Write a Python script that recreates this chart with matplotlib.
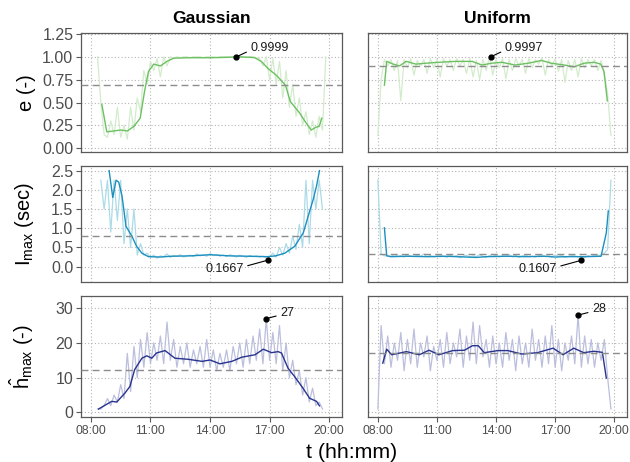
import matplotlib.pyplot as plt
import numpy as np

plt.rcParams['font.family'] = ['Liberation Sans', 'DejaVu Sans']
plt.rcParams['mathtext.fontset'] = 'custom'
plt.rcParams['mathtext.rm'] = 'Liberation Sans'
plt.rcParams['mathtext.it'] = 'Liberation Sans'


def hm(s):
    h, m = s.split(':')
    return int(h) + int(m) / 60.0


# raw series: 10-minute samples, first sample time given
g_e_raw_t0 = "08:20"
g_e_raw = [1.00, 0.50, 0.15, 0.12,
           0.30, 0.15, 0.45, 0.12, 0.25, 0.10,
           0.45, 0.20, 0.55, 0.40, 0.85, 0.70,
           0.95, 0.85, 0.98, 0.78, 1.00, 0.90,
           1.00, 0.98, 1.00, 0.99, 1.00, 1.00,
           0.99, 1.00, 1.00, 1.00, 0.99, 1.00,
           1.00, 1.00, 0.99, 1.00, 1.00, 1.00,
           1.00, 0.99, 1.00, 1.00, 1.00, 0.99,
           1.00, 1.00, 0.99, 0.98, 0.90, 1.00,
           0.75, 0.98, 0.70, 0.95, 0.55, 0.85,
           0.45, 0.70, 0.35, 0.55, 0.25, 0.40,
           0.15, 0.30, 0.12, 0.35, 0.20, 1.00]
g_e_smooth_t = ["08:33", "08:48", "09:10", "09:30", "09:50", "10:10", "10:29", "10:42",
                "10:54", "11:10", "11:30", "11:50", "12:10", "13:00", "14:00", "15:00",
                "15:20", "16:00", "16:15", "16:35", "16:56", "17:20", "17:48", "18:03",
                "18:30", "18:50", "19:06", "19:20", "19:30", "19:38"]
g_e_smooth = [0.48, 0.18, 0.19, 0.20, 0.19, 0.24, 0.33, 0.62,
              0.84, 0.92, 0.90, 0.95, 0.985, 0.99, 0.99, 0.995,
              1.00, 0.995, 0.99, 0.95, 0.87, 0.80, 0.69, 0.51,
              0.39, 0.28, 0.20, 0.23, 0.24, 0.33]

u_e_raw_t0 = "08:00"
u_e_raw = [0.14, 0.75, 0.97, 0.90, 0.97, 0.85,
           0.96, 0.52, 0.97, 0.88, 0.98, 0.80,
           0.96, 0.90, 0.97, 0.82, 0.98, 0.88,
           0.97, 0.78, 0.98, 0.90, 0.97, 0.85,
           0.98, 0.90, 0.97, 0.82, 0.98, 0.78,
           0.96, 0.75, 0.97, 0.85, 1.00, 0.80,
           0.97, 0.88, 0.98, 0.76, 0.97, 0.85,
           0.98, 0.90, 0.97, 0.82, 0.98, 0.88,
           0.97, 0.92, 0.99, 0.80, 0.97, 0.90,
           0.98, 0.84, 0.97, 0.72, 0.96, 0.85,
           0.97, 0.78, 0.98, 0.88, 0.97, 0.90,
           0.97, 0.85, 0.96, 0.80, 0.60, 0.14]
u_e_smooth_t = ["08:20", "08:27", "08:47", "09:06", "09:26", "09:56", "10:26", "11:06",
                "11:57", "12:47", "13:17", "13:47", "14:18", "14:58", "15:38", "16:19",
                "16:48", "17:28", "17:58", "18:28", "18:59", "19:19", "19:29", "19:39"]
u_e_smooth = [0.69, 0.95, 0.92, 0.90, 0.95, 0.92, 0.93, 0.94,
              0.95, 0.95, 0.91, 0.93, 0.94, 0.91, 0.93, 0.96,
              0.93, 0.91, 0.89, 0.93, 0.94, 0.92, 0.84, 0.52]

g_i_raw_t0 = "08:30"
g_i_raw = [2.25, 1.50, 2.25,
           0.90, 2.25, 1.20, 2.25, 0.60, 1.50,
           0.50, 1.50, 0.30, 0.60, 0.30, 0.35,
           0.25, 0.30, 0.22, 0.28, 0.26, 0.33,
           0.24, 0.29, 0.27, 0.31, 0.25, 0.28,
           0.30, 0.26, 0.33, 0.28, 0.31, 0.27,
           0.34, 0.29, 0.32, 0.27, 0.30, 0.26,
           0.31, 0.28, 0.25, 0.30, 0.27, 0.24,
           0.29, 0.26, 0.28, 0.25, 0.27, 0.22,
           0.25, 0.35, 0.25, 0.50, 0.30, 0.60,
           0.35, 0.80, 0.45, 1.10, 0.50, 2.25,
           0.60, 2.25, 1.50, 2.25, 1.50]
g_i_smooth_t = ["08:55", "09:06", "09:16", "09:24", "09:34", "09:46", "10:04", "10:18",
                "10:34", "10:54", "11:30", "12:00", "13:00", "14:00", "15:00", "16:00",
                "16:54", "17:18", "17:46", "18:16", "18:42", "18:57", "19:12", "19:22",
                "19:31"]
g_i_smooth = [2.50, 1.80, 2.25, 2.20, 1.84, 1.05, 0.79, 0.53,
              0.35, 0.26, 0.25, 0.27, 0.28, 0.31, 0.28, 0.27,
              0.26, 0.28, 0.35, 0.53, 0.88, 1.32, 1.75, 2.10,
              2.50]

u_i_raw_t0 = "08:00"
u_i_raw = [2.25, 0.33, 0.28, 0.30, 0.26, 0.32,
           0.27, 0.29, 0.25, 0.31, 0.28, 0.26,
           0.30, 0.27, 0.33, 0.26, 0.29, 0.25,
           0.28, 0.31, 0.27, 0.24, 0.30, 0.26,
           0.29, 0.23, 0.27, 0.30, 0.25, 0.28,
           0.26, 0.31, 0.27, 0.24, 0.29, 0.26,
           0.30, 0.25, 0.28, 0.27, 0.31, 0.26,
           0.29, 0.24, 0.28, 0.30, 0.26, 0.27,
           0.25, 0.29, 0.31, 0.26, 0.28, 0.25,
           0.30, 0.27, 0.29, 0.24, 0.26, 0.30,
           0.28, 0.25, 0.27, 0.23, 0.29, 0.26,
           0.30, 0.28, 0.31, 0.35, 0.45, 2.25]
u_i_smooth_t = ["08:20", "08:27", "08:40", "09:30", "10:30", "11:30", "12:30", "13:00",
                "13:30", "14:30", "15:30", "16:30", "17:00", "17:30", "18:30", "19:20",
                "19:36", "19:42"]
u_i_smooth = [1.01, 0.28, 0.26, 0.27, 0.26, 0.27, 0.25, 0.24,
              0.26, 0.27, 0.26, 0.27, 0.25, 0.26, 0.26, 0.27,
              0.88, 1.45]

g_h_raw_t0 = "08:20"
g_h_raw = [1, 1, 2, 4,
           2, 5, 3, 8, 4, 17,
           6, 19, 10, 21, 13, 23,
           14, 20, 15, 22, 14, 26,
           15, 21, 13, 19, 14, 20,
           13, 18, 14, 19, 13, 21,
           13, 18, 12, 17, 13, 18,
           12, 19, 14, 20, 13, 21,
           14, 22, 15, 24, 14, 27,
           15, 23, 14, 25, 12, 20,
           10, 15, 8, 12, 5, 10,
           3, 7, 2, 3, 1]
g_h_smooth_t = ["08:23", "09:03", "09:18", "09:43", "09:58", "10:12", "10:34", "10:49",
                "11:04", "11:18", "11:44", "12:14", "12:54", "13:36", "14:00", "14:30",
                "15:06", "15:36", "16:16", "16:41", "17:06", "17:26", "17:36", "17:56",
                "18:16", "18:41", "19:01", "19:22", "19:31"]
g_h_smooth = [1.0, 3.2, 3.0, 5.6, 7.5, 12.3, 15.6, 16.3,
              15.6, 17.1, 17.8, 15.6, 15.3, 14.7, 15.1, 14.0,
              14.7, 15.9, 16.6, 18.2, 17.2, 17.5, 17.1, 12.7,
              10.3, 7.0, 4.1, 3.2, 1.9]

u_h_raw_t0 = "08:00"
u_h_raw = [1, 25, 14, 22, 13, 20,
           15, 23, 12, 21, 14, 24,
           13, 20, 16, 22, 12, 19,
           15, 21, 13, 23, 14, 20,
           16, 24, 13, 22, 15, 26,
           14, 25, 16, 21, 13, 22,
           14, 20, 13, 23, 15, 21,
           12, 22, 14, 20, 13, 24,
           15, 21, 13, 22, 14, 25,
           13, 21, 12, 20, 15, 22,
           14, 28, 13, 22, 14, 21,
           13, 20, 15, 21, 10, 1]
u_h_smooth_t = ["08:15", "08:27", "08:42", "09:02", "09:27", "10:06", "10:36", "11:06",
                "11:48", "12:24", "12:48", "13:06", "13:24", "14:06", "14:36", "15:18",
                "16:06", "16:54", "17:24", "17:57", "18:27", "18:58", "19:24", "19:36"]
u_h_smooth = [14.2, 18.2, 16.6, 17.0, 17.5, 16.6, 17.9, 16.6,
              17.8, 17.9, 19.2, 19.2, 17.2, 17.8, 17.8, 16.8,
              17.2, 18.5, 16.6, 18.5, 17.2, 17.6, 17.3, 9.9]

# reference (mean) lines
g_means = [0.69, 0.81, 12.2]
u_means = [0.898, 0.33, 17.0]

# annotated extremes: time, value, label
g_ann = [("15:20", 0.9999, "0.9999"), ("16:54", 0.1667, "0.1667"), ("16:50", 27, "27")]
u_ann = [("13:44", 0.9997, "0.9997"), ("18:18", 0.1607, "0.1607"), ("18:10", 28, "28")]

row_ylims = [(-0.04, 1.26), (-0.4, 2.62), (-1.3, 33.5)]
row_yticks = [[0, 0.25, 0.5, 0.75, 1.0, 1.25], [0, 0.5, 1.0, 1.5, 2.0, 2.5], [0, 10, 20, 30]]
row_yticklabels = [["0.00", "0.25", "0.50", "0.75", "1.00", "1.25"],
                   ["0.0", "0.5", "1.0", "1.5", "2.0", "2.5"],
                   ["0", "10", "20", "30"]]
row_ylabels = ["e (-)", r"$\mathrm{I}_{\mathrm{max}}$ (sec)", r"$\hat{\mathrm{h}}_{\mathrm{max}}$ (-)"]
x_ticks = [8, 11, 14, 17, 20]
x_ticklabels = ["08:00", "11:00", "14:00", "17:00", "20:00"]

raw_colors = ["#d3eccc", "#acdbe7", "#bbbfdd"]
line_colors = ["#6cc062", "#1c8fbf", "#27338d"]
ann_offsets = [(14, 9), (-24, -9), (14, 6)]

g_data = [(g_e_raw_t0, g_e_raw, g_e_smooth_t, g_e_smooth),
          (g_i_raw_t0, g_i_raw, g_i_smooth_t, g_i_smooth),
          (g_h_raw_t0, g_h_raw, g_h_smooth_t, g_h_smooth)]
u_data = [(u_e_raw_t0, u_e_raw, u_e_smooth_t, u_e_smooth),
          (u_i_raw_t0, u_i_raw, u_i_smooth_t, u_i_smooth),
          (u_h_raw_t0, u_h_raw, u_h_smooth_t, u_h_smooth)]

fig = plt.figure(figsize=(6.3, 4.62), dpi=100)
W, H = 630.0, 462.0
cols = [(81, 342), (368, 627)]
rows = [(33, 152), (166, 282), (296, 417)]

for c, (data, means, anns, title) in enumerate([(g_data, g_means, g_ann, "Gaussian"),
                                                 (u_data, u_means, u_ann, "Uniform")]):
    for r in range(3):
        x0, x1 = cols[c]
        y0, y1 = rows[r]
        ax = fig.add_axes([x0 / W, 1 - y1 / H, (x1 - x0) / W, (y1 - y0) / H])
        t0, raw, st, sv = data[r]
        rt = hm(t0) + np.arange(len(raw)) / 6.0
        ax.plot(rt, raw, color=raw_colors[r], lw=0.9, zorder=2)
        ax.plot([hm(s) for s in st], sv, color=line_colors[r], lw=1.0, zorder=3)
        ax.axhline(means[r], color="#8c8c8c", lw=1.0, ls=(0, (5, 3)), zorder=4)
        at, av, lab = anns[r]
        ax.plot(hm(at), av, 'o', color='black', ms=3.5, zorder=5)
        dx, dy = ann_offsets[r]
        ax.annotate(lab, xy=(hm(at), av), xytext=(dx, dy), textcoords='offset pixels',
                    ha='left' if dx > 0 else 'right', va='center', fontsize=9,
                    color='#1a1a1a', zorder=6,
                    arrowprops=dict(arrowstyle='-', color='black', lw=0.8,
                                    shrinkA=1, shrinkB=1,
                                    relpos=(0, 0.3) if dx > 0 else (1, 0.7)))
        ax.set_xlim(7.5, 20.65)
        ax.set_ylim(*row_ylims[r])
        ax.set_xticks(x_ticks)
        ax.set_yticks(row_yticks[r])
        ax.grid(True, color="#b5b5b5", lw=0.8, ls=(0, (1, 2)))
        ax.set_axisbelow(True)
        for sp in ax.spines.values():
            sp.set_color("#5a5a5a")
            sp.set_linewidth(0.9)
        ax.tick_params(colors="#5a5a5a", labelcolor="#4d4d4d", length=3.5, width=0.8, pad=2)
        if c == 0:
            ax.set_yticklabels(row_yticklabels[r], fontsize=11.5)
            ax.set_ylabel(row_ylabels[r], fontsize=14.5, color='black')
            ax.yaxis.set_label_coords(-0.172, 0.5)
        else:
            ax.tick_params(axis='y', length=0, labelleft=False)
        if r == 2:
            ax.set_xticklabels(x_ticklabels, fontsize=8.7)
        else:
            ax.tick_params(axis='x', length=0, labelbottom=False)
        if r == 0:
            ax.set_title(title, fontsize=12.6, fontweight='bold', pad=7)

fig.text(352 / W, 1 - 452 / H, "t (hh:mm)", ha='center', va='center', fontsize=15.3)

fig.savefig("out.png", dpi=100)
